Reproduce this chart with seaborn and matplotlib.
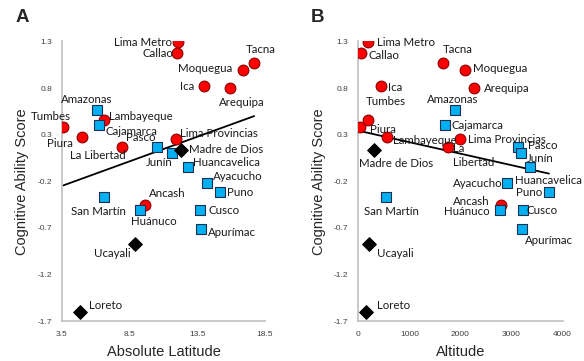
# Cognitive ability score by region vs. absolute latitude (A) and altitude (B)

import numpy as np
import pandas as pd
import matplotlib
matplotlib.use('Agg')
import matplotlib.pyplot as plt
import seaborn as sns

regions = ['Lima Metro', 'Callao', 'Tacna', 'Moquegua', 'Ica', 'Arequipa',
           'Tumbes', 'Lambayeque', 'Piura', 'La Libertad', 'Lima Provincias', 'Ancash',
           'Amazonas', 'Cajamarca', 'Pasco', 'Junín', 'Huancavelica', 'Ayacucho',
           'Puno', 'Huánuco', 'Cusco', 'Apurímac', 'San Martín',
           'Madre de Dios', 'Ucayali', 'Loreto']
zone = ['coast'] * 12 + ['highlands'] * 11 + ['jungle'] * 3
score = [1.29, 1.18, 1.07, 0.99, 0.82, 0.80,
         0.38, 0.46, 0.27, 0.17, 0.25, -0.45,
         0.56, 0.40, 0.17, 0.10, -0.05, -0.22,
         -0.32, -0.51, -0.51, -0.71, -0.37,
         0.14, -0.87, -1.60]
latitude = [12.1, 12.0, 17.7, 16.9, 14.0, 15.9,
            3.6, 6.6, 5.0, 7.9, 11.9, 9.65,
            6.1, 6.2, 10.5, 11.6, 12.8, 14.2,
            15.2, 9.3, 13.7, 13.8, 6.6,
            12.3, 8.9, 4.85]
altitude = [184, 53, 1663, 2088, 444, 2270,
            33, 196, 562, 1749, 1990, 2793,
            1892, 1697, 3131, 3184, 3360, 2904,
            3732, 2773, 3217, 3197, 542,
            313, 209, 144]

y_ticks = [1.3, 0.8, 0.3, -0.2, -0.7, -1.2, -1.7]
lat_ticks = [3.5, 8.5, 13.5, 18.5]
alt_ticks = [0, 1000, 2000, 3000, 4000]

# label placement, hand tuned like the original: (dx, dy, ha) in pixels, dy downwards
labels_a = {
    'Lima Metro': (-6, 0, 'right'), 'Callao': (-4, 1, 'right'),
    'Tacna': (7, -13, 'center'), 'Moquegua': (-11, -2, 'right'),
    'Ica': (-10, 0, 'right'), 'Arequipa': (12, 14, 'center'),
    'Amazonas': (-10, -11, 'center'), 'Tumbes': (-12, -11, 'center'),
    'Lambayeque': (5, -3, 'left'), 'Cajamarca': (7, 6, 'left'),
    'Piura': (-9, 6, 'right'), 'La Libertad': (-24, 9, 'center'),
    'Pasco': (-1, -9, 'right'), 'Lima Provincias': (4, -6, 'left'),
    'Madre de Dios': (8, 0, 'left'), 'Junín': (-12, 9, 'center'),
    'Huancavelica': (5, -5, 'left'), 'Ayacucho': (6, -7, 'left'),
    'Puno': (7, 0, 'left'), 'Ancash': (4, -11, 'left'),
    'Huánuco': (13, 11, 'center'), 'Cusco': (8, 0, 'left'),
    'Apurímac': (7, 4, 'left'), 'San Martín': (-6, 14, 'center'),
    'Ucayali': (-23, 10, 'center'), 'Loreto': (9, -6, 'left'),
}
labels_b = {
    'Lima Metro': (9, 0, 'left'), 'Callao': (7, 3, 'left'),
    'Ica': (7, 1, 'left'), 'Tumbes': (18, -18, 'center'),
    'Piura': (10, 2, 'left'), 'Lambayeque': (6, 3, 'left'),
    'Madre de Dios': (22, 14, 'center'), 'Tacna': (14, -13, 'center'),
    'Moquegua': (8, -2, 'left'), 'Arequipa': (10, 0, 'left'),
    'Amazonas': (-2, -11, 'center'), 'Cajamarca': (6, 0, 'left'),
    'Lima Provincias': (8, 0, 'left'), 'La Libertad': (5, 9, 'left'),
    'Pasco': (10, -1, 'left'), 'Junín': (6, 5, 'left'),
    'Huancavelica': (-15, 13, 'left'), 'Ayacucho': (-4, 0, 'right'),
    'Puno': (-7, 0, 'right'), 'Ancash': (-11, -3, 'right'),
    'Huánuco': (-10, 1, 'right'), 'Cusco': (4, 0, 'left'),
    'Apurímac': (3, 12, 'left'), 'San Martín': (5, 14, 'center'),
    'Ucayali': (26, 10, 'center'), 'Loreto': (11, -6, 'left'),
}
# Tumbes/Piura/Lambayeque labels sit next to neighbouring points in panel B
label_anchor_b = {'Piura': 'Tumbes', 'Lambayeque': 'Piura', 'Tumbes': 'Lambayeque'}

df = pd.DataFrame({'region': regions, 'zone': zone, 'score': score,
                   'latitude': latitude, 'altitude': altitude})

palette = {'coast': '#ff0000', 'highlands': '#00b0f0', 'jungle': '#000000'}
markers = {'coast': 'o', 'highlands': 's', 'jungle': 'D'}
edges = {'coast': '#8b0000', 'highlands': '#1f2f4f', 'jungle': '#000000'}

sns.set_style('white')
plt.rcParams['font.family'] = ['Liberation Sans', 'DejaVu Sans']

fig = plt.figure(figsize=(5.84, 3.61), dpi=100)
ax_a = fig.add_axes([62 / 584, 1 - 321 / 361, 203 / 584, 279.5 / 361])
ax_b = fig.add_axes([358.3 / 584, 1 - 321 / 361, 204.4 / 584, 279.5 / 361])


def draw_panel(ax, xcol, xticks, xlabel, labels, anchors=None):
    sns.regplot(data=df, x=xcol, y='score', ax=ax, scatter=False, ci=None,
                truncate=True, line_kws={'color': 'black', 'lw': 1.3})
    for z in ['coast', 'highlands', 'jungle']:
        sub = df[df['zone'] == z]
        sns.scatterplot(data=sub, x=xcol, y='score', ax=ax, color=palette[z],
                        marker=markers[z], s=60 if z != 'jungle' else 48,
                        edgecolor=edges[z], linewidth=0.8, zorder=3, legend=False)

    for name, (dx, dy, ha) in labels.items():
        src = anchors.get(name, name) if anchors else name
        row = df[df['region'] == src].iloc[0]
        text = 'La\nLibertad' if (anchors and name == 'La Libertad') else name
        ax.annotate(text, (row[xcol], row['score']), xytext=(dx, -dy),
                    textcoords='offset pixels', ha=ha, va='center',
                    fontsize=8.3, color='#1a1a1a', family=['Lato', 'DejaVu Sans'],
                    linespacing=1.3, zorder=4)

    ax.set_xlim(xticks[0], xticks[-1])
    ax.set_ylim(-1.7, 1.3)
    ax.set_xticks(xticks)
    ax.set_yticks(y_ticks)
    ax.set_xticklabels([f'{t:g}' for t in xticks])
    ax.set_yticklabels([f'{t:g}' for t in y_ticks])
    ax.tick_params(axis='both', which='both', direction='out', length=3,
                   width=0.8, color='#bfbfbf', labelsize=6, labelcolor='#404040',
                   pad=4)
    for side in ['top', 'right']:
        ax.spines[side].set_visible(False)
    for side in ['left', 'bottom']:
        ax.spines[side].set_color('#bfbfbf')
        ax.spines[side].set_linewidth(1.2)
    ax.set_xlabel(xlabel, fontsize=10.5, labelpad=5)
    ax.set_ylabel('Cognitive Ability Score', fontsize=10.5, labelpad=6)


draw_panel(ax_a, 'latitude', lat_ticks, 'Absolute Latitude', labels_a)
draw_panel(ax_b, 'altitude', alt_ticks, 'Altitude', labels_b, label_anchor_b)

fig.text(22 / 584, 1 - 18 / 361, 'A', fontsize=13.5, fontweight='bold',
         ha='center', va='center')
fig.text(318 / 584, 1 - 18 / 361, 'B', fontsize=13.5, fontweight='bold',
         ha='center', va='center')

fig.savefig('out.png', dpi=100)
